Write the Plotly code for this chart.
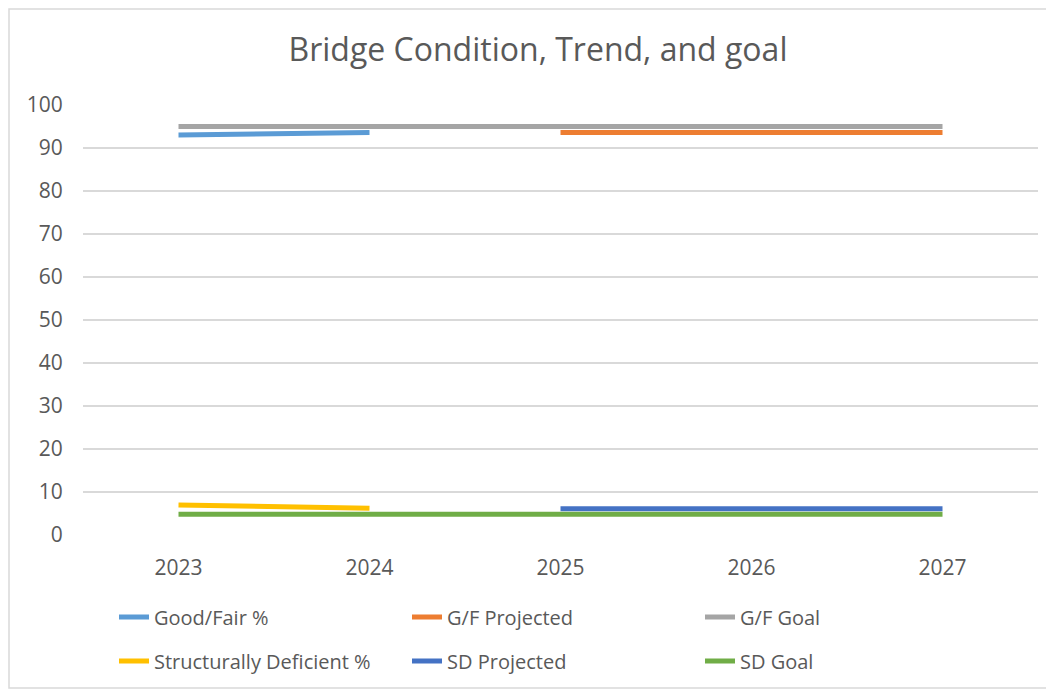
import plotly.graph_objects as go

years = ["2023", "2024", "2025", "2026", "2027"]
good_fair = [93.0, 93.6, None, None, None]
gf_projected = [None, None, 93.6, 93.6, 93.6]
gf_goal = [95, 95, 95, 95, 95]
sd_pct = [7.0, 6.2, None, None, None]
sd_projected = [None, None, 6.1, 6.1, 6.1]
sd_goal = [4.8, 4.8, 4.8, 4.8, 4.8]

series = [
    ("Good/Fair %", good_fair, "#5B9BD5", "legend"),
    ("G/F Projected", gf_projected, "#ED7D31", "legend"),
    ("G/F Goal", gf_goal, "#A5A5A5", "legend"),
    ("Structurally Deficient %", sd_pct, "#FFC000", "legend2"),
    ("SD Projected", sd_projected, "#4472C4", "legend2"),
    ("SD Goal", sd_goal, "#70AD47", "legend2"),
]

FONT = "Open Sans"
GREY = "#595959"

fig = go.Figure()
for name, vals, color, lg in series:
    fig.add_trace(go.Scatter(
        x=years, y=vals, name=name, mode="lines",
        line=dict(color=color, width=5), connectgaps=False,
        legend=lg,
    ))

# figure is offset 8px by the page body margin
W, H = 1046, 686
L, R, T, B = 75, 16, 97, 159
pw, ph = W - L - R, H - T - B

def px(x):
    return (x - L) / pw

def py(y):
    return (H - B - y) / ph

legend_common = dict(
    orientation="h", font=dict(family=FONT, size=20, color=GREY),
    entrywidth=248, entrywidthmode="pixels", xanchor="left", yanchor="middle",
    xref="container", yref="container",
    bgcolor="rgba(0,0,0,0)", itemclick=False,
)

fig.update_layout(
    width=W, height=H,
    margin=dict(l=L, r=R, t=T, b=B, autoexpand=False),
    paper_bgcolor="white", plot_bgcolor="white",
    font=dict(family=FONT, color=GREY),
    title=dict(text="Bridge Condition, Trend, and goal", x=530 / W, xanchor="center",
               y=1 - 42 / H, yanchor="middle",
               font=dict(family=FONT, size=32, color=GREY)),
    xaxis=dict(type="category", range=[-0.5, 4.5], showgrid=False, zeroline=False,
               showline=False, ticks="outside", ticklen=14, tickcolor="rgba(0,0,0,0)",
               tickfont=dict(family=FONT, size=21, color=GREY), fixedrange=True),
    yaxis=dict(range=[0, 100], tickvals=list(range(0, 101, 10)), showgrid=True,
               gridcolor="#D9D9D9", gridwidth=1.5, zeroline=False, showline=False,
               ticks="outside", ticklen=15, tickcolor="rgba(0,0,0,0)",
               tickfont=dict(family=FONT, size=21, color=GREY), fixedrange=True),
    legend=dict(x=106 / W, y=1 - 609 / H, **legend_common),
    legend2=dict(x=106 / W, y=1 - 653 / H, **legend_common),
    shapes=[dict(type="rect", xref="paper", yref="paper",
                 x0=px(1), x1=px(1040), y0=py(680), y1=py(1),
                 line=dict(color="#D9D9D9", width=1.5), layer="below")],
)

fig.write_html("out.html")
